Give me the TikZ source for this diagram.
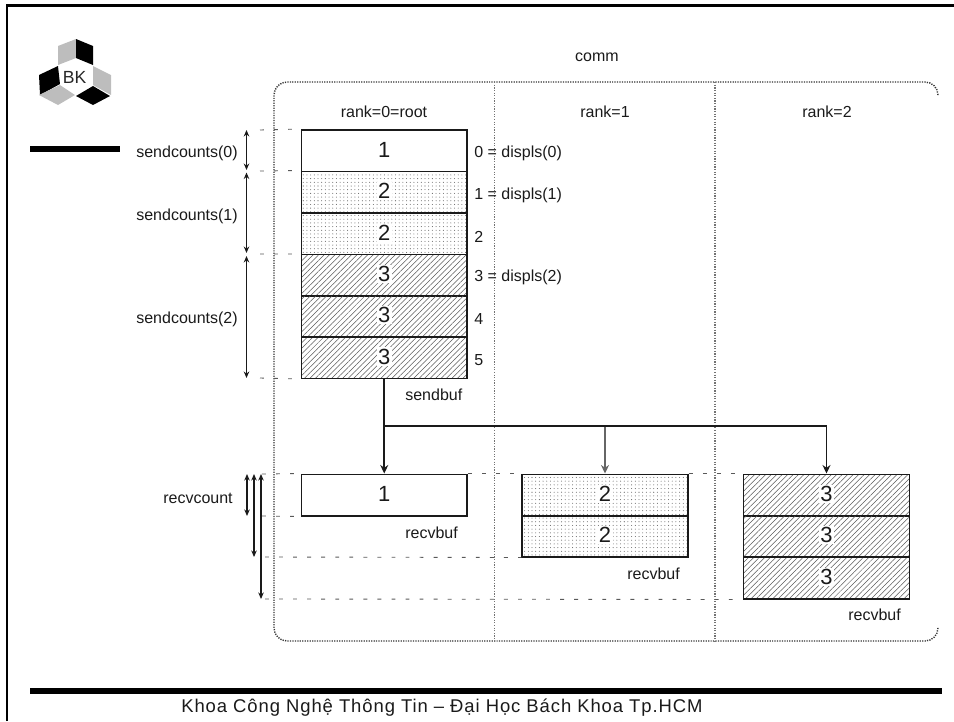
\documentclass[tikz,border=0pt]{standalone}
\usepackage{fontspec}
\setmainfont{Liberation Sans}
\newfontfamily\footfont[LetterSpace=5]{Liberation Sans}
\usetikzlibrary{arrows.meta,patterns.meta}
\definecolor{inkc}{HTML}{1A1A1A}
\definecolor{logoc}{HTML}{BDBDBD}
\tikzset{
  txt/.style={font=\fontsize{9.1}{10}\selectfont, text=inkc, inner sep=0pt},
  digit/.style={font=\fontsize{12.5}{14}\selectfont, text=inkc, fill=white, inner sep=0.8pt, yshift=0.5pt},
  cell/.style={draw=inkc, line width=0.85pt, minimum width=3.32cm, minimum height=0.83cm, inner sep=0pt},
  dotcell/.style={cell, pattern={Dots[distance=2.1pt, radius=0.3pt, xshift=0.4pt]}, pattern color=black!60},
  hatchcell/.style={cell, pattern={Lines[angle=45, distance=2.2pt, line width=0.3pt]}, pattern color=black!65},
  arr/.style={-{Stealth[length=1.7mm, width=1.6mm]}, draw=inkc, line width=1.1pt},
  dim/.style={{Stealth[length=1.3mm, width=1.1mm]}-{Stealth[length=1.3mm, width=1.1mm]}, draw=inkc, line width=0.7pt},
  lead/.style={draw=black!65, line width=0.5pt, dash pattern=on 2.2pt off 5.8pt},
  rule/.style={fill=black, draw=none},
  commline/.style={draw=black!80, line width=0.8pt, dash pattern=on 0.7pt off 0.7pt},
  divline/.style={draw=black!55, line width=0.6pt, dash pattern=on 0.7pt off 0.8pt},
}
\begin{document}
\begin{tikzpicture}[x=0.02cm, y=-0.02cm]
  \useasboundingbox (0,0) rectangle (954,721);
  % page frame and rules
  \draw[black, line width=1.5pt] (7,721) -- (7,5.5) -- (954,5.5);
  \fill[rule] (30,146) rectangle (120,152);
  \fill[rule] (30,688) rectangle (942,694);
  % logo
  \fill[logoc] (58,46) -- (76,39) -- (76,58) -- (58,65) -- cycle;
  \fill[black] (76,39) -- (93,46) -- (93,65) -- (76,58) -- cycle;
  \fill[black] (39,75) -- (58,66) -- (60,84) -- (40,95) -- cycle;
  \fill[logoc] (39,95) -- (60,85) -- (75,95) -- (58,105) -- cycle;
  \fill[logoc] (93,66) -- (111,75) -- (111,95) -- (93,85) -- cycle;
  \fill[black] (76,96) -- (93,86) -- (110,96) -- (93,105) -- cycle;
  \node[font=\fontsize{10}{11}\selectfont, text=black!85, inner sep=0pt] (logotxt) at (74.5,77) {BK};
  % comm
  \draw[commline, rounded corners=0.26cm] (938,95) |- (274,82) -- (274,641) -| (938,627);
  \draw[divline] (494.5,82) -- (494.5,641);
  \draw[divline] (715,82) -- (715,641);
  \node[txt] (comm) at (597,57) {comm};
  \node[txt] (rank0) at (384,111.5) {rank=0=root};
  \node[txt] (rank1) at (605,111.5) {rank=1};
  \node[txt] (rank2) at (827,111.5) {rank=2};
  % send buffer
  \node[cell, label={[digit]center:1}] (s0) at (384.25,150.5) {};
  \node[dotcell, label={[digit]center:2}] (s1) at (384.25,192) {};
  \node[dotcell, label={[digit]center:2}] (s2) at (384.25,233.5) {};
  \node[hatchcell, label={[digit]center:3}] (s3) at (384.25,275) {};
  \node[hatchcell, label={[digit]center:3}] (s4) at (384.25,316) {};
  \node[hatchcell, label={[digit]center:3}] (s5) at (384.25,357.5) {};
  \foreach \y/\t in {153.5/{0 = displs(0)}, 195/{1 = displs(1)}, 236.5/2, 277/{3 = displs(2)}, 319/4, 360/5}
    \node[txt, anchor=west] at (474,\y) {\t};
  \node[txt, anchor=west] (sendbuf) at (405,395) {sendbuf};
  % recv buffers
  \node[cell, label={[digit]center:1}] (r0) at (384.25,495) {};
  \node[dotcell, label={[digit]center:2}] (r1a) at (605,495) {};
  \node[dotcell, label={[digit]center:2}] (r1b) at (605,536) {};
  \node[hatchcell, label={[digit]center:3}] (r2a) at (826.5,495) {};
  \node[hatchcell, label={[digit]center:3}] (r2b) at (826.5,536) {};
  \node[hatchcell, label={[digit]center:3}] (r2c) at (826.5,578) {};
  \node[txt, anchor=west] (rbuf0) at (405,533) {recvbuf};
  \node[txt, anchor=west] (rbuf1) at (627,574) {recvbuf};
  \node[txt, anchor=west] (rbuf2) at (848,615) {recvbuf};
  % scatter arrows
  \coordinate (split) at (384.25,426);
  \draw[arr] (s5.south) -- (r0.north);
  \draw[arr, draw=black!60] (split) -| (r1a.north);
  \draw[arr] (split) -| (r2a.north);
  % send sizes
  \coordinate (a0) at (246.5,130);
  \coordinate (a1) at (246.5,170);
  \coordinate (a2) at (246.5,172.5);
  \coordinate (a3) at (246.5,253);
  \coordinate (a4) at (246.5,256);
  \coordinate (a5) at (246.5,378);
  \draw[dim] (a0) -- (a1);
  \draw[dim] (a2) -- (a3);
  \draw[dim] (a4) -- (a5);
  \node[txt, anchor=west] (sc0) at (136,153) {sendcounts(0)};
  \node[txt, anchor=west] (sc1) at (136,216) {sendcounts(1)};
  \node[txt, anchor=west] (sc2) at (136,319) {sendcounts(2)};
  \coordinate (l0) at (260,130);
  \coordinate (l1) at (260,171);
  \coordinate (l2) at (260,254);
  \coordinate (l3) at (260,378);
  \draw[lead] (l0) -- (s0.north west);
  \draw[lead] (l1) -- (s1.north west);
  \draw[lead] (l2) -- (s3.north west);
  \draw[lead] (l3) -- (s5.south west);
  % recv sizes
  \coordinate (b0) at (247,474);
  \coordinate (b1) at (247,516);
  \coordinate (b2) at (254,474);
  \coordinate (b3) at (254,557);
  \coordinate (b4) at (261,474);
  \coordinate (b5) at (261,599);
  \draw[dim] (b0) -- (b1);
  \draw[dim] (b2) -- (b3);
  \draw[dim] (b4) -- (b5);
  \node[txt, anchor=west] (rc) at (163,498) {recvcount};
  \coordinate (m0) at (262,474);
  \coordinate (m1) at (262,516);
  \coordinate (m2) at (265,557);
  \coordinate (m3) at (265,599);
  \draw[lead] (m0) -- (r0.north west);
  \draw[lead] (r0.north east) -- (r1a.north west);
  \draw[lead] (r1a.north east) -- (r2a.north west);
  \draw[lead] (m1) -- (r0.south west);
  \draw[lead] (m2) -- (r1b.south west);
  \draw[lead] (m3) -- (r2c.south west);
  % footer
  \node[font=\footfont\fontsize{10.5}{12}\selectfont, text=inkc, anchor=west, inner sep=0pt] (footer) at (181,708) {Khoa Công Nghệ Thông Tin – Đại Học Bách Khoa Tp.HCM};
\end{tikzpicture}
\end{document}
